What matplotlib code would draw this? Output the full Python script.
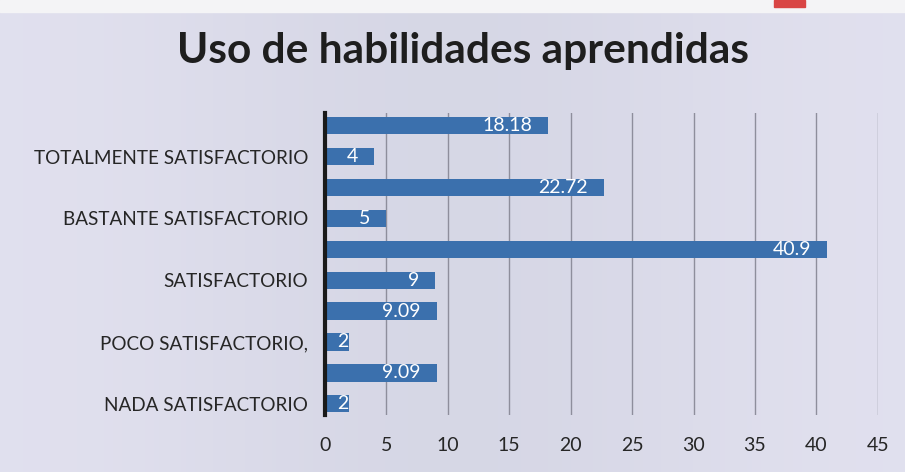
import numpy as np
import matplotlib
matplotlib.use('Agg')
import matplotlib.pyplot as plt

# categories bottom to top
categories = ['NADA SATISFACTORIO', 'POCO SATISFACTORIO,', 'SATISFACTORIO',
              'BASTANTE SATISFACTORIO', 'TOTALMENTE SATISFACTORIO']
counts = [2, 2, 9, 5, 4]
percents = [9.09, 9.09, 40.9, 22.72, 18.18]
count_labels = ['2', '2', '9', '5', '4']
percent_labels = ['9.09', '9.09', '40.9', '22.72', '18.18']
x_ticks = [0, 5, 10, 15, 20, 25, 30, 35, 40, 45]

bar_color = '#3b70ad'
plt.rcParams['font.family'] = ['Lato', 'DejaVu Sans']

fig = plt.figure(figsize=(9.05, 4.72), dpi=100)
fig.patch.set_facecolor('#dcdcea')

# soft scanned-paper background
bg = fig.add_axes([0, 0, 1, 1], zorder=-1)
gx = np.linspace(0, 1, 200)
grad = np.tile(0.5 - 0.5 * np.cos(gx * np.pi * 2) * 0.6, (50, 1))
bg.imshow(grad, aspect='auto', cmap=matplotlib.colors.LinearSegmentedColormap.from_list(
    'bg', ['#e4e3f1', '#d3d4e3']), extent=[0, 1, 0, 1], vmin=0, vmax=1)
bg.axhspan(0.975, 1.0, color='#f4f4f6')
bg.add_patch(plt.Rectangle((0.855, 0.985), 0.035, 0.015, color='#d94545'))
bg.set_xlim(0, 1)
bg.set_ylim(0, 1)
bg.axis('off')

ax = fig.add_axes([0.359, 0.121, 0.611, 0.640])
ax.set_facecolor('none')

y = np.arange(len(categories))
h = 0.28
ax.barh(y, counts, height=h, color=bar_color, zorder=3)
ax.barh(y + 0.5, percents, height=h, color=bar_color, zorder=3)


def inset(v):
    return 1.3 if v > 3 else 0.05


for yi, v, t in zip(y, counts, count_labels):
    ax.text(v - inset(v), yi, t, color='white', ha='right', va='center', fontsize=14, zorder=4)
for yi, v, t in zip(y, percents, percent_labels):
    ax.text(v - inset(v), yi + 0.5, t, color='white', ha='right', va='center', fontsize=14, zorder=4)

ax.set_xlim(0, 45)
ax.set_ylim(-0.18, 4.71)
ax.set_xticks(x_ticks)
ax.set_yticks(y)
ax.set_yticklabels(categories, fontsize=13.6, color='#262626')
ax.tick_params(axis='x', labelsize=14, colors='#262626', length=0, pad=16)
ax.tick_params(axis='y', length=0, pad=12)
ax.grid(axis='x', color='#8e8e9c', linewidth=1, zorder=0)
for s in ['top', 'right', 'bottom']:
    ax.spines[s].set_visible(False)
ax.spines['left'].set_linewidth(3)
ax.spines['left'].set_color('#1a1a1a')
ax.spines['left'].set_zorder(5)

fig.text(0.512, 0.892, 'Uso de habilidades aprendidas', ha='center', va='center',
         fontsize=30.5, fontweight='bold', color='#1e1e1e')

fig.savefig('out.png', dpi=100)
